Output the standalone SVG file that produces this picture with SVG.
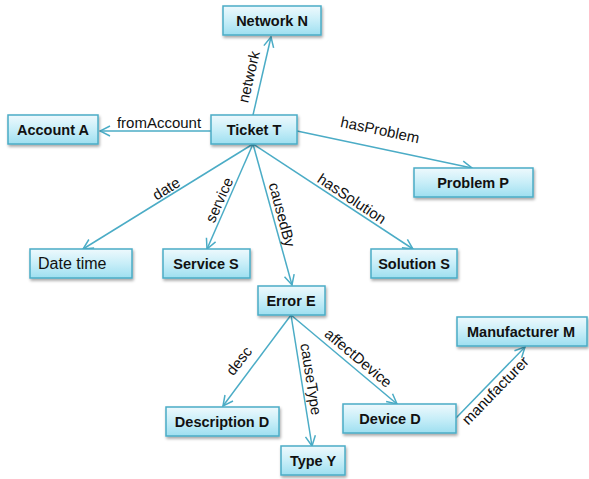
<svg xmlns="http://www.w3.org/2000/svg" width="589" height="479" viewBox="0 0 589 479">
  <defs>
    <linearGradient id="boxFill" x1="0" y1="0" x2="0" y2="1">
      <stop offset="0" stop-color="#eef9fd"/>
      <stop offset="0.5" stop-color="#c8eef8"/>
      <stop offset="1" stop-color="#9edff0"/>
    </linearGradient>
    <filter id="shadow" x="-10%" y="-20%" width="125%" height="160%">
      <feGaussianBlur in="SourceAlpha" stdDeviation="1.5"/>
      <feOffset dx="1" dy="2" result="b"/>
      <feComponentTransfer><feFuncA type="linear" slope="0.35"/></feComponentTransfer>
      <feMerge><feMergeNode/><feMergeNode in="SourceGraphic"/></feMerge>
    </filter>
    <marker id="arrow" viewBox="0 0 12 12" refX="11" refY="6" markerWidth="12" markerHeight="12" markerUnits="userSpaceOnUse" orient="auto">
      <path d="M1,1 L11,6 L1,11" fill="none" stroke="#4bacc6" stroke-width="1.5"/>
    </marker>
  </defs>
  <style>
    .box { fill: url(#boxFill); stroke: #4bacc6; stroke-width: 1.5; filter: url(#shadow); }
    .name { font-family: "Liberation Sans", Arial, sans-serif; font-size: 14.5px; font-weight: bold; fill: #111; text-anchor: middle; }
    .plain { font-family: "Liberation Sans", Arial, sans-serif; font-size: 16px; fill: #111; }
    .edge { fill: none; stroke: #4bacc6; stroke-width: 1.5; marker-end: url(#arrow); }
    .label { font-family: "Liberation Sans", Arial, sans-serif; font-size: 15px; fill: #111; text-anchor: middle; }
  </style>
  <rect width="589" height="479" fill="#ffffff"/>

  <!-- connectors and their labels -->
  <g id="connectors">
    <line class="edge" x1="253" y1="115" x2="271" y2="37"/>
    <line class="edge" x1="211" y1="131" x2="100" y2="131"/>
    <line class="edge" x1="297" y1="131" x2="472" y2="168"/>
    <line class="edge" x1="253" y1="144" x2="83" y2="249"/>
    <line class="edge" x1="253" y1="144" x2="207" y2="249"/>
    <line class="edge" x1="253" y1="144" x2="292" y2="285"/>
    <line class="edge" x1="253" y1="144" x2="413" y2="249"/>
    <line class="edge" x1="291" y1="315" x2="223" y2="406"/>
    <line class="edge" x1="291" y1="315" x2="312" y2="446"/>
    <line class="edge" x1="291" y1="315" x2="397" y2="404"/>
    <line class="edge" x1="456" y1="418" x2="525" y2="347"/>

    <text class="label" transform="translate(254,78) rotate(-77)">network</text>
    <text class="label" x="159" y="128">fromAccount</text>
    <text class="label" transform="translate(379,135) rotate(12)">hasProblem</text>
    <text class="label" transform="translate(169,193) rotate(-31.5)">date</text>
    <text class="label" transform="translate(224,202) rotate(-66)">service</text>
    <text class="label" transform="translate(277,216) rotate(75)">causedBy</text>
    <text class="label" transform="translate(349,203) rotate(33.4)">hasSolution</text>
    <text class="label" transform="translate(243,364) rotate(-52)">desc</text>
    <text class="label" transform="translate(306,380) rotate(81)">causeType</text>
    <text class="label" transform="translate(355,362) rotate(40)">affectDevice</text>
    <text class="label" transform="translate(499,394) rotate(-45.8)">manufacturer</text>
  </g>

  <g id="network-n">
    <rect class="box" x="223" y="6" width="98" height="29"/>
    <text class="name" x="272" y="25.5">Network N</text>
  </g>
  <g id="ticket-t">
    <rect class="box" x="211" y="115" width="86" height="29"/>
    <text class="name" x="254" y="134.5">Ticket T</text>
  </g>
  <g id="account-a">
    <rect class="box" x="8" y="115" width="90" height="29"/>
    <text class="name" x="53" y="134.5">Account A</text>
  </g>
  <g id="problem-p">
    <rect class="box" x="414" y="168" width="119" height="29"/>
    <text class="name" x="473" y="187.5">Problem P</text>
  </g>
  <g id="date-time">
    <rect class="box" x="30" y="249" width="102" height="29"/>
    <text class="plain" x="38" y="269">Date time</text>
  </g>
  <g id="service-s">
    <rect class="box" x="163" y="249" width="87" height="29"/>
    <text class="name" x="206" y="268.5">Service S</text>
  </g>
  <g id="solution-s">
    <rect class="box" x="371" y="249" width="86" height="29"/>
    <text class="name" x="414" y="268.5">Solution S</text>
  </g>
  <g id="error-e">
    <rect class="box" x="258" y="286" width="67" height="29"/>
    <text class="name" x="291" y="305.5">Error E</text>
  </g>
  <g id="description-d">
    <rect class="box" x="166" y="407" width="113" height="29"/>
    <text class="name" x="222" y="426.5">Description D</text>
  </g>
  <g id="type-y">
    <rect class="box" x="281" y="446" width="64" height="29"/>
    <text class="name" x="313" y="465.5">Type Y</text>
  </g>
  <g id="device-d">
    <rect class="box" x="343" y="404" width="113" height="29"/>
    <text class="name" x="390" y="423.5">Device D</text>
  </g>
  <g id="manufacturer-m">
    <rect class="box" x="457" y="317" width="130" height="29"/>
    <text class="name" x="521" y="336.5">Manufacturer M</text>
  </g>
</svg>
